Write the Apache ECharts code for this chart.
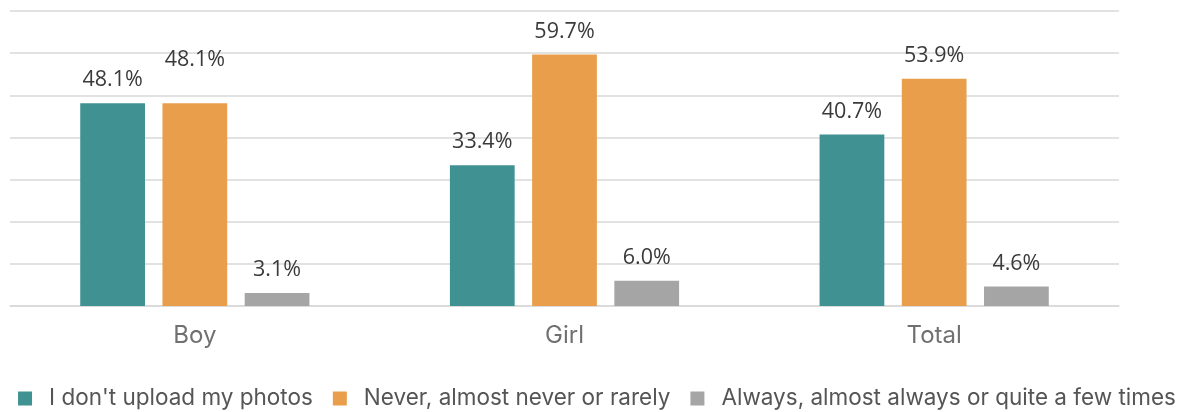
<!DOCTYPE html>
<html>
<head>
<meta charset="utf-8">
<script src="https://cdn.jsdelivr.net/npm/echarts@6/dist/echarts.min.js"></script>
<style>
html,body{margin:0;padding:0;background:#fff;}
#chart{width:1194px;height:412px;}
</style>
</head>
<body>
<div id="chart"></div>
<script>
const categories = ['Boy', 'Girl', 'Total'];
const seriesNames = ["I don't upload my photos", 'Never, almost never or rarely', 'Always, almost always or quite a few times'];
const noUpload = [48.1, 33.4, 40.7];
const rarely = [48.1, 59.7, 53.9];
const often = [3.1, 6.0, 4.6];
const colors = ['#3F9192', '#E99E4B', '#A5A5A5'];
// extra upward label shift for individual points (style only)
const labelLift = [[0, 0, 0], [20, 0, 0], [0, 0, 0]];

const values = [noUpload, rarely, often];

const chart = echarts.init(document.getElementById('chart'));
chart.setOption({
  animation: false,
  grid: { left: 10, right: 75, top: 11, bottom: 106 },
  legend: {
    bottom: -3,
    left: 'center',
    itemWidth: 14,
    itemHeight: 14,
    itemGap: 20,
    icon: 'rect',
    textStyle: { fontFamily: 'Inter', fontSize: 22.5, color: '#555555', padding: [0, 0, 0, 12] },
    data: seriesNames
  },
  xAxis: {
    type: 'category',
    data: categories,
    axisLine: { show: true, lineStyle: { color: '#D9D9D9', width: 1.5 } },
    axisTick: { show: false },
    axisLabel: { fontFamily: 'Inter', fontSize: 24, color: '#707070', margin: 18 }
  },
  yAxis: {
    type: 'value',
    min: 0,
    max: 70,
    interval: 10,
    axisLabel: { show: false },
    axisLine: { show: false },
    axisTick: { show: false },
    splitLine: { lineStyle: { color: '#D9D9D9', width: 1.5 } }
  },
  series: values.map((arr, si) => ({
    name: seriesNames[si],
    type: 'bar',
    barGap: '27%',
    barCategoryGap: '38%',
    itemStyle: { color: colors[si] },
    label: {
      show: true,
      position: 'top',
      distance: 12,
      fontFamily: 'Open Sans',
      fontSize: 21.5,
      color: '#3A3A3A',
      formatter: p => p.value.toFixed(1) + '%'
    },
    data: arr.map((v, ci) => ({
      value: v,
      label: { offset: [0, -labelLift[si][ci]] }
    }))
  }))
});
</script>
</body>
</html>
